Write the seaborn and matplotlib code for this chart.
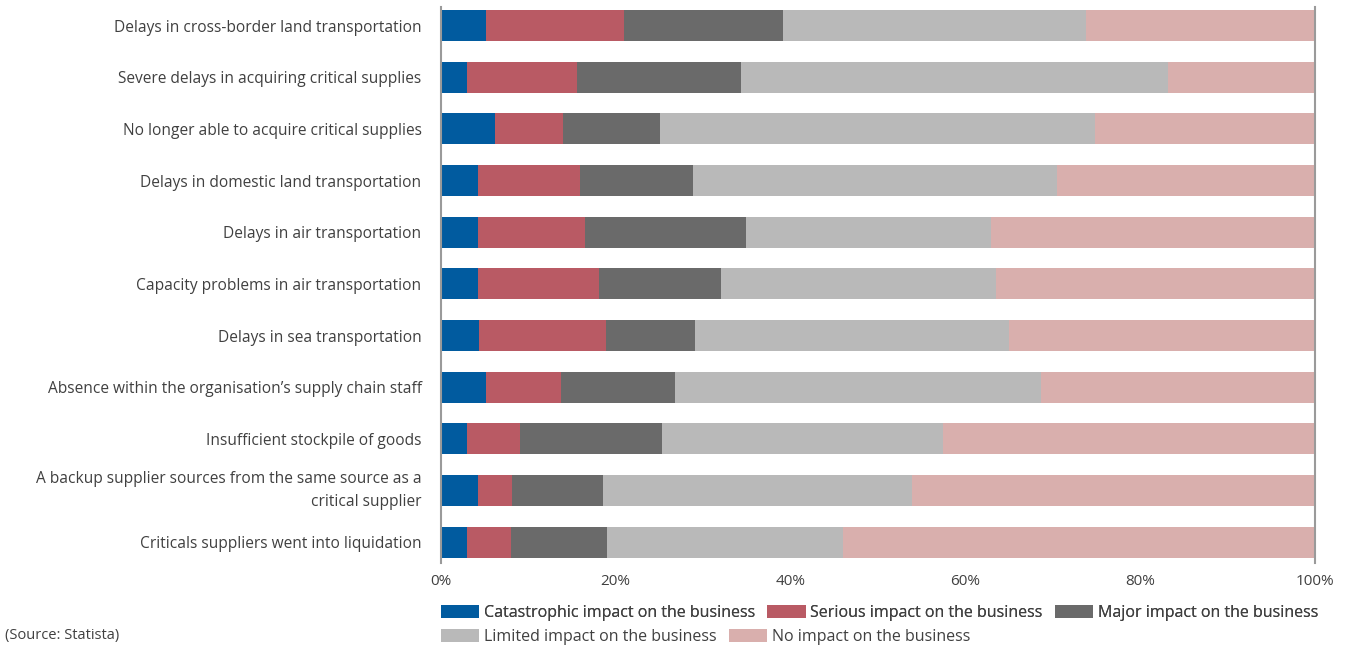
import numpy as np
import pandas as pd
import matplotlib
matplotlib.use("Agg")
import matplotlib.pyplot as plt
import seaborn as sns
from matplotlib.patches import Patch

categories = [
    "Delays in cross-border land transportation",
    "Severe delays in acquiring critical supplies",
    "No longer able to acquire critical supplies",
    "Delays in domestic land transportation",
    "Delays in air transportation",
    "Capacity problems in air transportation",
    "Delays in sea transportation",
    "Absence within the organisation\u2019s supply chain staff",
    "Insufficient stockpile of goods",
    "A backup supplier sources from the same source as a\ncritical supplier",
    "Criticals suppliers went into liquidation",
]
catastrophic = [5.2, 3.0, 6.2, 4.2, 4.2, 4.2, 4.3, 5.1, 3.0, 4.2, 3.0]
serious      = [15.8, 12.6, 7.8, 11.7, 12.25, 13.85, 14.6, 8.6, 6.0, 3.9, 5.0]
major        = [18.1, 18.7, 11.1, 12.9, 18.5, 14.05, 10.2, 13.1, 16.3, 10.5, 11.0]
limited      = [34.7, 48.9, 49.8, 41.7, 28.1, 31.4, 35.9, 41.9, 32.2, 35.3, 27.0]
no_impact    = [26.2, 16.8, 25.1, 29.5, 37.0, 36.5, 35.0, 31.3, 42.5, 46.1, 54.0]
series_names = [
    "Catastrophic impact on the business",
    "Serious impact on the business",
    "Major impact on the business",
    "Limited impact on the business",
    "No impact on the business",
]
tick_labels = ["0%", "20%", "40%", "60%", "80%", "100%"]
colors = ["#015B9F", "#B95A64", "#6A6A6A", "#B9B9B9", "#D9AFAD"]

sns.set_theme(style="white")
plt.rcParams["font.family"] = ["Open Sans", "DejaVu Sans"]
text_color = "#404040"

df = pd.DataFrame(
    np.array([catastrophic, serious, major, limited, no_impact]).T,
    columns=series_names,
)
df = df.div(df.sum(axis=1), axis=0) * 100
cum = df.cumsum(axis=1)
cum["category"] = categories

fig = plt.figure(figsize=(13.63, 6.48), dpi=100)
ax = fig.add_axes([441 / 1363, 1 - 563 / 648, (1314.5 - 441) / 1363, (563 - 7) / 648])

for name, col in reversed(list(zip(series_names, colors))):
    sns.barplot(data=cum, x=name, y="category", order=categories, color=col,
                orient="h", width=0.6, saturation=1, ax=ax, linewidth=0)

ax.set_xlim(0, 100)
ax.set_ylim(len(categories) - 1 + 0.40, -0.36)
ax.set_xticks([0, 20, 40, 60, 80, 100])
ax.set_xticklabels(tick_labels)
ax.set_xlabel("")
ax.set_ylabel("")
ax.tick_params(axis="both", length=0, labelsize=11.2, colors=text_color)
ax.tick_params(axis="x", pad=8, labelsize=11)
ax.tick_params(axis="y", pad=14)
for lbl in ax.get_yticklabels():
    lbl.set_horizontalalignment("right")
    lbl.set_multialignment("right")
    if "\n" in lbl.get_text():
        lbl.set_linespacing(1.6)
        lbl.set_verticalalignment("center")
for s in ["top", "bottom"]:
    ax.spines[s].set_visible(False)
for s in ["left", "right"]:
    ax.spines[s].set_visible(True)
    ax.spines[s].set_color("#9A9A9A")
    ax.spines[s].set_linewidth(1.5)

handles = [Patch(facecolor=c, edgecolor="none") for c in colors]
leg_kw = dict(loc="upper left", frameon=False, fontsize=11.5, handlelength=2.4,
              handleheight=0.8, handletextpad=0.3, columnspacing=0.75,
              borderpad=0, borderaxespad=0, labelcolor=text_color)
leg1 = fig.legend(handles[:3], series_names[:3], ncol=3,
                  bbox_to_anchor=(441 / 1363, 1 - 605 / 648), **leg_kw)
fig.add_artist(leg1)
leg2 = fig.legend(handles[3:], series_names[3:], ncol=2,
                  bbox_to_anchor=(441 / 1363, 1 - 629 / 648), **leg_kw)

fig.text(5 / 1363, 1 - 635 / 648, "(Source: Statista)", fontsize=10.5,
         color=text_color, va="center", ha="left")

fig.savefig("out.png", dpi=100, facecolor="white")
